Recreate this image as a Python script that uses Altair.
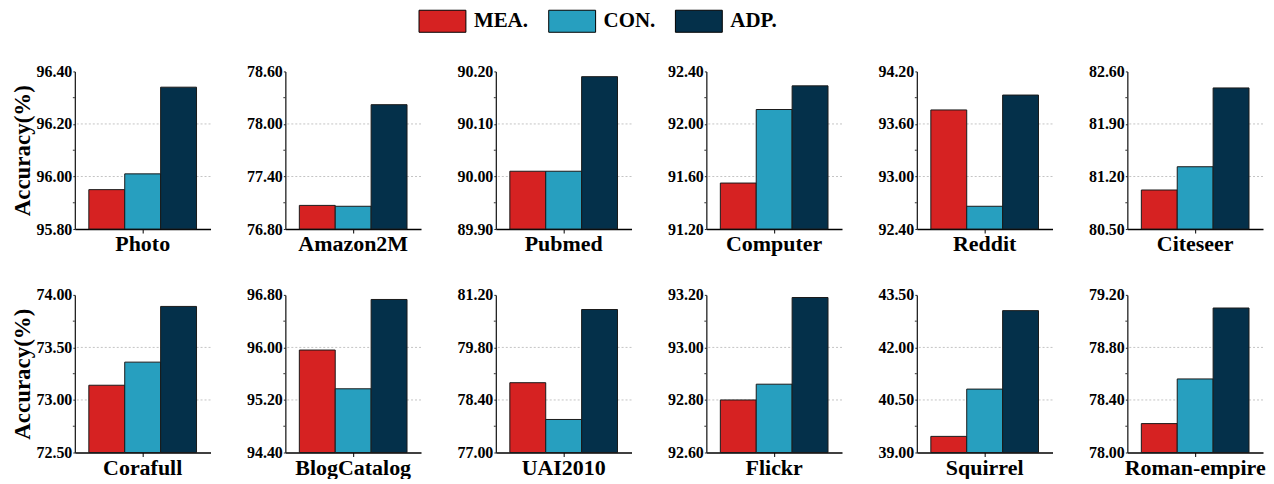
import altair as alt
import pandas as pd

datasets = ["Photo", "Amazon2M", "Pubmed", "Computer", "Reddit", "Citeseer",
            "Corafull", "BlogCatalog", "UAI2010", "Flickr", "Squirrel", "Roman-empire"]
methods = ["MEA.", "CON.", "ADP."]
mea = [95.95, 77.07, 90.01, 91.55, 93.76, 81.02, 73.14, 95.96, 78.86, 92.80, 39.46, 78.22]
con = [96.01, 77.06, 90.01, 92.11, 92.66, 81.33, 73.36, 95.37, 77.88, 92.86, 40.81, 78.56]
adp = [96.34, 78.22, 90.19, 92.29, 93.93, 82.38, 73.89, 96.73, 80.81, 93.19, 43.05, 79.10]
y_min = [95.8, 76.8, 89.9, 91.2, 92.4, 80.5, 72.5, 94.4, 77.0, 92.6, 39.0, 78.0]
y_max = [96.4, 78.6, 90.2, 92.4, 94.2, 82.6, 74.0, 96.8, 81.2, 93.2, 43.5, 79.2]
colors = ["#d62222", "#279fbf", "#04304a"]

FONT = "Liberation Serif"

panels = []
for i, name in enumerate(datasets):
    lo, hi = y_min[i], y_max[i]
    step = (hi - lo) / 3
    ticks = [round(lo + k * step, 6) for k in range(4)]
    minor = [round(lo + (k + 0.5) * step, 6) for k in range(3)]
    df = pd.DataFrame({"dataset": [name] * 3, "method": methods,
                       "value": [mea[i], con[i], adp[i]]})
    first = (i % 6 == 0)
    yscale = alt.Scale(domain=[lo, hi], nice=False, zero=False)
    yaxis = alt.Axis(values=ticks, format=".2f", grid=False,
                     title="Accuracy(%)" if first else None,
                     titleFont=FONT, titleFontSize=23, titleFontWeight="bold",
                     titleColor="black", titlePadding=1,
                     labelFont=FONT, labelFontSize=16, labelFontWeight="bold",
                     labelColor="black", labelFlush=False, labelOverlap=False,
                     labelPadding=1, tickSize=2, tickColor="#222222",
                     domainColor="#222222", domainWidth=1.3)
    grid = alt.Chart(pd.DataFrame({"g": ticks[1:3]})).mark_rule(
        color="#c4c4c4", strokeDash=[2, 2], strokeWidth=1
    ).encode(y=alt.Y("g:Q", scale=yscale, axis=yaxis))
    bars = alt.Chart(df).mark_bar(stroke="#1a1a1a", strokeWidth=1).encode(
        x=alt.X("dataset:N",
                scale=alt.Scale(paddingInner=0, paddingOuter=0.13),
                axis=alt.Axis(title=None, labelAngle=0, labelFont=FONT,
                              labelFontSize=22, labelFontWeight="bold",
                              labelColor="black", labelPadding=1,
                              tickSize=4, tickColor="black",
                              domainColor="black", domainWidth=1.5)),
        xOffset=alt.XOffset("method:N", sort=methods,
                            scale=alt.Scale(paddingInner=0, paddingOuter=0)),
        y=alt.Y("value:Q", scale=yscale, axis=yaxis),
        y2=alt.datum(lo),
        color=alt.Color("method:N", sort=methods,
                        scale=alt.Scale(domain=methods, range=colors),
                        legend=alt.Legend(title=None, orient="none",
                                          direction="horizontal",
                                          legendX=356, legendY=-63,
                                          symbolType="M-2,-0.94H2V0.94H-2Z",
                                          symbolSize=552,
                                          symbolStrokeColor="black",
                                          symbolStrokeWidth=1,
                                          symbolOpacity=1,
                                          labelFont=FONT, labelFontSize=21,
                                          labelFontWeight="bold",
                                          labelColor="black",
                                          labelOffset=19, columnPadding=18)),
    )
    ticks_minor = alt.Chart(pd.DataFrame({"m": minor})).mark_rule(
        color="#333333", strokeWidth=1
    ).encode(y=alt.Y("m:Q", scale=yscale, axis=yaxis),
             x=alt.value(-2), x2=alt.value(0))
    panels.append(alt.layer(grid, bars, ticks_minor).properties(width=136, height=158))

chart = alt.concat(*panels, columns=6, spacing={"row": 66, "column": 75},
                   bounds="flush").properties(
    padding={"left": 3, "right": 0, "top": 0, "bottom": 0}
).configure_view(stroke=None)

chart.save("out.html", embed_options={"renderer": "svg", "actions": False})
